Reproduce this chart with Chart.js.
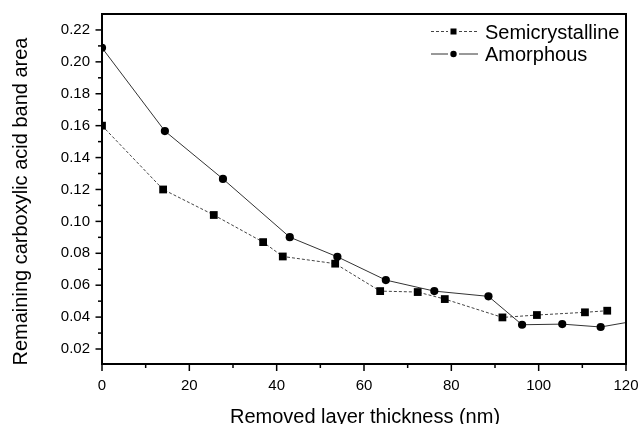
<!DOCTYPE html>
<html>
<head>
<meta charset="utf-8">
<script src="https://cdn.jsdelivr.net/npm/chart.js@4/dist/chart.umd.min.js"></script>
<style>
  html, body { margin: 0; padding: 0; background: #fff; }
  #wrap { width: 639px; height: 424px; }
</style>
</head>
<body>
<div id="wrap"><canvas id="c" width="639" height="424"></canvas></div>
<script>
// Removed layer thickness (nm) for each measurement
const semiThickness = [0, 14.0, 25.6, 36.9, 41.4, 53.4, 63.7, 72.3, 78.5, 91.7, 99.6, 110.6, 115.7];
const semiArea      = [0.160, 0.120, 0.104, 0.087, 0.078, 0.0735, 0.0563, 0.0557, 0.0513, 0.0398, 0.0413, 0.043, 0.044];

const amorThickness = [0, 14.4, 27.7, 43.0, 53.9, 65.0, 76.1, 88.5, 96.2, 105.4, 114.2, 124];
const amorArea      = [0.2088, 0.1566, 0.1266, 0.0901, 0.0778, 0.0632, 0.0563, 0.053, 0.0352, 0.0356, 0.0338, 0.0385];

const seriesNames = ['Semicrystalline', 'Amorphous'];

const xTicks = [0, 20, 40, 60, 80, 100, 120];
const yTicks = [0.02, 0.04, 0.06, 0.08, 0.10, 0.12, 0.14, 0.16, 0.18, 0.20, 0.22];
const yTickLabels = ['0.02', '0.04', '0.06', '0.08', '0.10', '0.12', '0.14', '0.16', '0.18', '0.20', '0.22'];

const xTitle = 'Removed layer thickness (nm)';
const yTitle = 'Remaining carboxylic acid band area';

const FONT = '"Liberation Sans", Arial, Helvetica, sans-serif';

const toPoints = (xs, ys) => xs.map((x, i) => ({ x, y: ys[i] }));

// midpoints between neighbouring major ticks
const minorsOf = (majors) => {
  const out = [];
  for (let i = 0; i < majors.length - 1; i++) out.push((majors[i] + majors[i + 1]) / 2);
  return out;
};

// Box frame, outward tick marks, axis titles and the legend
const framePlugin = {
  id: 'frame',
  afterDatasetsDraw(chart) {
    const { ctx, chartArea: a, scales } = chart;
    const xs = scales.x, ys = scales.y;
    ctx.save();
    ctx.strokeStyle = '#000';
    ctx.lineCap = 'butt';

    // ticks
    ctx.lineWidth = 1.5;
    const tick = (x1, y1, x2, y2) => { ctx.beginPath(); ctx.moveTo(x1, y1); ctx.lineTo(x2, y2); ctx.stroke(); };
    xTicks.forEach(v => { const p = xs.getPixelForValue(v); tick(p, a.bottom, p, a.bottom + 7); });
    minorsOf(xTicks).forEach(v => { const p = xs.getPixelForValue(v); tick(p, a.bottom, p, a.bottom + 4); });
    yTicks.forEach(v => { const p = ys.getPixelForValue(v); tick(a.left, p, a.left - 6.5, p); });
    const yMinors = minorsOf(yTicks);
    yMinors.push(yTicks[0] - 0.01, yTicks[yTicks.length - 1] + 0.01);
    yMinors.filter(v => v > ys.min && v < ys.max - 0.001).forEach(v => {
      const p = ys.getPixelForValue(v); tick(a.left, p, a.left - 4, p);
    });

    // frame
    ctx.lineWidth = 2;
    ctx.strokeRect(a.left, a.top, a.right - a.left, a.bottom - a.top);

    // axis titles
    ctx.fillStyle = '#000';
    ctx.font = '20px ' + FONT;
    ctx.textAlign = 'center';
    ctx.textBaseline = 'alphabetic';
    ctx.fillText(xTitle, (a.left + a.right) / 2 + 1, 423);
    ctx.save();
    ctx.translate(27, 201.5);
    ctx.rotate(-Math.PI / 2);
    ctx.fillText(yTitle, 0, 0);
    ctx.restore();

    // legend
    const rows = [38.5, 61];
    chart.data.datasets.forEach((ds, i) => {
      const cy = rows[i] - 7;
      ctx.save();
      ctx.strokeStyle = ds.borderColor;
      ctx.lineWidth = 1;
      ctx.setLineDash(ds.borderDash || []);
      ctx.beginPath(); ctx.moveTo(431, cy); ctx.lineTo(448, cy); ctx.stroke();
      ctx.beginPath(); ctx.moveTo(459, cy); ctx.lineTo(478, cy); ctx.stroke();
      ctx.restore();
      ctx.fillStyle = '#000';
      if (ds.pointStyle === 'rect') {
        ctx.fillRect(450.5, cy - 3, 6, 6);
      } else {
        ctx.beginPath(); ctx.arc(453.5, cy, 3.2, 0, Math.PI * 2); ctx.fill();
      }
      ctx.font = '20px ' + FONT;
      ctx.textAlign = 'left';
      ctx.textBaseline = 'alphabetic';
      ctx.fillText(ds.label, 485, rows[i]);
    });
    ctx.restore();
  }
};

new Chart(document.getElementById('c'), {
  type: 'scatter',
  data: {
    datasets: [
      {
        label: seriesNames[0],
        data: toPoints(semiThickness, semiArea),
        showLine: true,
        borderColor: '#444',
        borderWidth: 1,
        borderDash: [3, 2],
        pointStyle: 'rect',
        pointRadius: 5.5,
        pointHoverRadius: 5.5,
        pointBackgroundColor: '#000',
        pointBorderColor: '#000',
        pointBorderWidth: 0
      },
      {
        label: seriesNames[1],
        data: toPoints(amorThickness, amorArea),
        showLine: true,
        borderColor: '#333',
        borderWidth: 1,
        pointStyle: 'circle',
        pointRadius: 4.1,
        pointHoverRadius: 4.1,
        pointBackgroundColor: '#000',
        pointBorderColor: '#000',
        pointBorderWidth: 0
      }
    ]
  },
  options: {
    responsive: false,
    animation: false,
    devicePixelRatio: 1,
    layout: { padding: { left: 0, top: 14, right: 13, bottom: 0 } },
    plugins: { legend: { display: false }, tooltip: { enabled: false } },
    scales: {
      x: {
        type: 'linear',
        min: 0,
        max: 120,
        grid: { display: false, drawTicks: false },
        border: { display: false },
        afterBuildTicks: s => { s.ticks = xTicks.map(v => ({ value: v })); },
        afterFit: s => { s.height = 60; s.paddingLeft = 0; s.paddingRight = 0; },
        ticks: {
          color: '#000',
          padding: 13,
          font: { family: FONT, size: 15 },
          callback: v => String(v)
        }
      },
      y: {
        type: 'linear',
        min: 0.0106,
        max: 0.23,
        grid: { display: false, drawTicks: false },
        border: { display: false },
        afterBuildTicks: s => { s.ticks = yTicks.map(v => ({ value: v })); },
        afterFit: s => { s.width = 102; s.paddingTop = 0; s.paddingBottom = 0; },
        ticks: {
          color: '#000',
          padding: 12,
          font: { family: FONT, size: 15 },
          callback: v => {
            const i = yTicks.findIndex(t => Math.abs(t - v) < 1e-9);
            return i >= 0 ? yTickLabels[i] : '';
          }
        }
      }
    }
  },
  plugins: [framePlugin]
});
</script>
</body>
</html>
